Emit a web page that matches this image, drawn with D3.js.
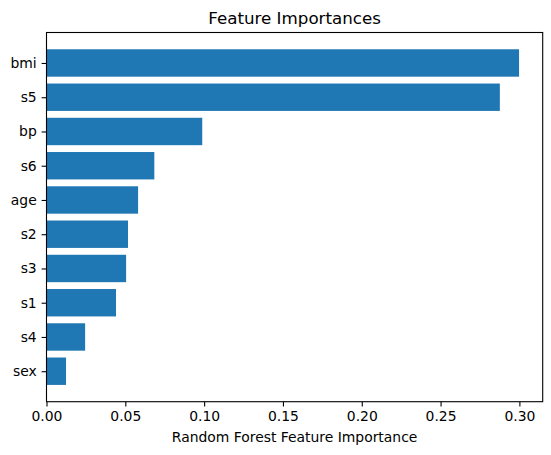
<!DOCTYPE html>
<html>
<head>
<meta charset="utf-8">
<script src="https://cdn.jsdelivr.net/npm/d3@7"></script>
<style>
  body { margin: 0; background: #fff; }
  text { font-family: "DejaVu Sans", sans-serif; fill: #000; }
</style>
</head>
<body>
<div id="chart-container"></div>
<script>
// features from bottom to top, as matplotlib barh draws them
var features = ["sex", "s4", "s1", "s3", "s2", "age", "s6", "bp", "s5", "bmi"];
var importances = [0.0124, 0.0245, 0.0441, 0.0505, 0.0517, 0.0581, 0.0684, 0.0988, 0.2876, 0.2998];
var xTicks = [0.00, 0.05, 0.10, 0.15, 0.20, 0.25, 0.30];

var svgWidth = 551;
var svgHeight = 455;
var margin = { top: 32.5, right: 8.3, bottom: 53.3, left: 46.5 };
var width = svgWidth - margin.left - margin.right;
var height = svgHeight - margin.top - margin.bottom;

var svg = d3.select('#chart-container')
    .append('svg')
    .attr('width', svgWidth)
    .attr('height', svgHeight)
    .append('g')
    .attr('transform', 'translate(' + margin.left + ',' + margin.top + ')');

// x: 0 .. max*1.05 (matplotlib margin, sticky at 0)
var x = d3.scaleLinear()
    .domain([0, d3.max(importances) * 1.05])
    .range([0, width]);

// y: positions 0..n-1, bar height 0.8, 5% margins
var n = features.length;
var lo = -0.4, hi = n - 1 + 0.4, pad = (hi - lo) * 0.05;
var y = d3.scaleLinear()
    .domain([lo - pad, hi + pad])
    .range([height, 0]);
var barH = y(0) - y(0.8);

svg.selectAll(".bar")
    .data(importances)
    .enter().append("rect")
    .attr("class", "bar")
    .attr("x", x(0))
    .attr("y", function(d, i) { return y(i + 0.4); })
    .attr("width", function(d) { return x(d) - x(0); })
    .attr("height", barH)
    .style("fill", "#1f77b4");

// X axis
var xAxis = svg.append('g')
    .attr('transform', 'translate(0,' + height + ')')
    .call(d3.axisBottom(x).tickValues(xTicks).tickFormat(d3.format(".2f"))
        .tickSizeOuter(0).tickSize(4.9).tickPadding(4.2));
xAxis.select(".domain").remove();
xAxis.selectAll("line").attr("stroke", "#000").attr("stroke-width", 1.1);
xAxis.selectAll("text")
    .style("font-size", "13.9px")
    .style("font-family", "DejaVu Sans, sans-serif")
    .attr("fill", "#000");

// Y axis
var yAxis = svg.append('g')
    .call(d3.axisLeft(y).tickValues(d3.range(n)).tickFormat(function(i) { return features[i]; })
        .tickSizeOuter(0).tickSize(4.9).tickPadding(4.9));
yAxis.select(".domain").remove();
yAxis.selectAll("line").attr("stroke", "#000").attr("stroke-width", 1.1);
yAxis.selectAll("text")
    .style("font-size", "13.9px")
    .style("font-family", "DejaVu Sans, sans-serif")
    .attr("fill", "#000");

// frame
svg.append("rect")
    .attr("x", 0).attr("y", 0)
    .attr("width", width).attr("height", height)
    .attr("fill", "none")
    .attr("stroke", "#000")
    .attr("stroke-width", 1.1);

// title
svg.append("text")
    .attr("x", width / 2)
    .attr("y", -8.2)
    .style("text-anchor", "middle")
    .style("font-size", "16.7px")
    .text("Feature Importances");

// x label
svg.append("text")
    .attr("x", width / 2)
    .attr("y", height + 40.5)
    .style("text-anchor", "middle")
    .style("font-size", "13.9px")
    .text("Random Forest Feature Importance");
</script>
</body>
</html>
